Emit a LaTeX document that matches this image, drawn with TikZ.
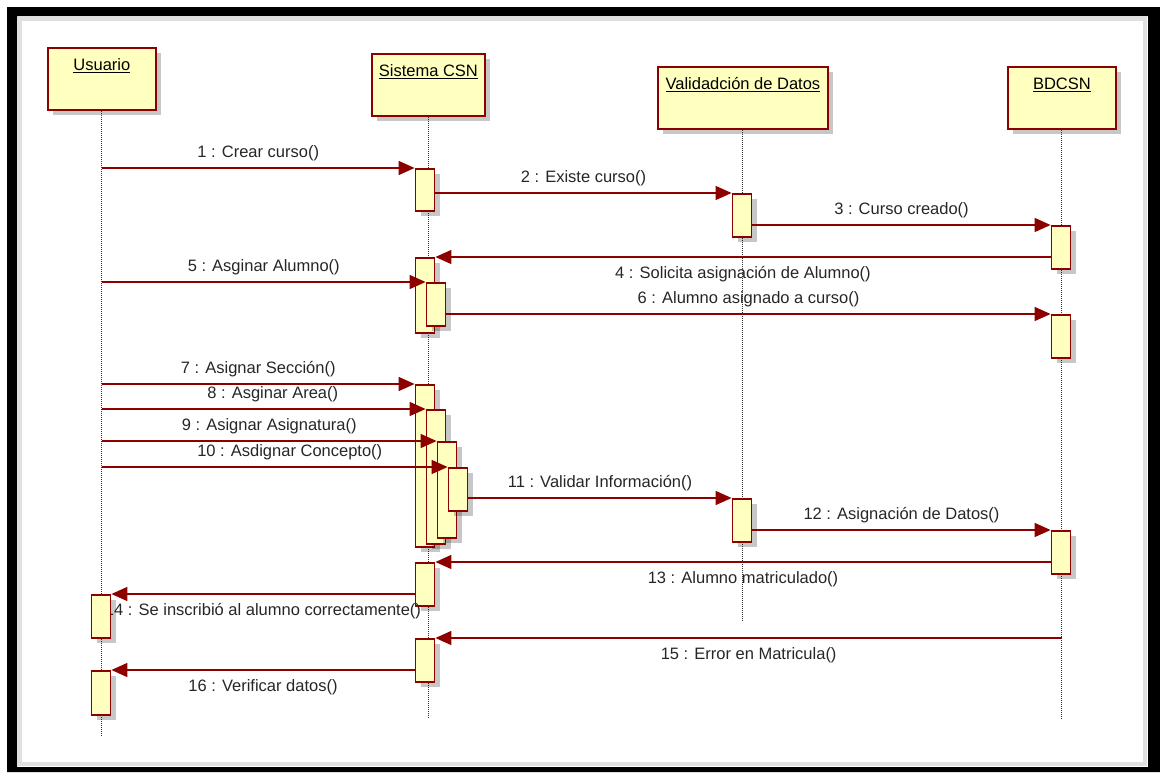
\documentclass[tikz,border=0pt]{standalone}
\usepackage{fontspec}
\setmainfont{Liberation Sans}
\usetikzlibrary{arrows.meta,shadows}

\definecolor{boxfill}{RGB}{255,255,192}
\definecolor{boxline}{RGB}{140,0,0}
\pgfdeclarelayer{front}
\pgfsetlayers{main,front}

\tikzset{
  umlfont/.style={font=\fontsize{16.5}{18}\selectfont},
  shade box/.style={drop shadow={shadow xshift=5pt, shadow yshift=-5pt, fill=black, opacity=.22}},
  head/.style={umlfont, draw=boxline, fill=boxfill, line width=1.8pt, shade box,
    minimum width=108pt, minimum height=62pt, inner sep=7pt,
    text height=16pt, text depth=32pt, anchor=north west},
  act/.style={draw=boxline, fill=boxfill, line width=1.8pt, shade box,
    minimum width=19pt, inner sep=0pt, anchor=north},
  life/.style={black!80, line width=0.9pt, dash pattern=on 1pt off 1pt},
  msg/.style={boxline, line width=1.4pt, -{Triangle[length=16pt,width=14pt]}},
  msglabel/.style={umlfont, text=black!85, inner sep=0pt, text height=12pt, text depth=3.5pt}
}

\begin{document}
\begin{tikzpicture}[x=1pt, y=-1pt]
  \useasboundingbox (0,0) rectangle (1160,772);

  % Frame
  \fill[black, even odd rule] (7,7) rectangle (1160,772) (17,16) rectangle (1148,767);
  \draw[black!12, line width=4pt] (20,19) rectangle (1145,764);

  % Lifeline heads
  \node[head] (usuario) at (47,47) {\underline{Usuario}};
  \node[head] (sistema) at (371,53) {\underline{Sistema CSN}};
  \node[head, minimum width=170pt] (valida) at (657,66) {\underline{Validadción de Datos}};
  \node[head] (bdcsn) at (1007,66) {\underline{BDCSN}};

  % Lifelines
  \draw[life] (usuario.south) -- (usuario.south |- 0,735);
  \draw[life] (sistema.south) -- (sistema.south |- 0,718);
  \draw[life] (valida.south) -- (valida.south |- 0,620);
  \draw[life] (bdcsn.south) -- (bdcsn.south |- 0,718);

  % Activations
  \node[act, minimum height=42pt] (s1) at (425,168) {};
  \node[act, minimum height=43pt] (v1) at (742,193) {};
  \node[act, minimum height=43pt] (b1) at (1061,225) {};
  \node[act, minimum height=75pt] (s2) at (425,257) {};
  \node[act, minimum height=43pt] (s3) at (436,282) {};
  \node[act, minimum height=43pt] (b2) at (1061,314) {};
  \node[act, minimum height=162pt] (s4) at (425,384) {};
  \node[act, minimum height=134pt] (s5) at (436,409) {};
  \node[act, minimum height=96pt] (s6) at (447,441) {};
  \node[act, minimum height=43pt] (s7) at (458,467) {};
  \node[act, minimum height=43pt] (v2) at (742,498) {};
  \node[act, minimum height=43pt] (b3) at (1061,530) {};
  \node[act, minimum height=43pt] (s8) at (425,562) {};
  \node[act, minimum height=43pt] (s9) at (425,638) {};
  \begin{pgfonlayer}{front}
    \node[act, minimum height=43pt] (u1) at (101,594) {};
    \node[act, minimum height=44pt] (u2) at (101,670) {};
  \end{pgfonlayer}

  % Messages
  \draw[msg] (s1.north west -| usuario.south) -- (s1.north west)
    node[msglabel, midway, above=6pt] {1 : Crear curso()};
  \draw[msg] (v1.north west -| s1.east) -- (v1.north west)
    node[msglabel, midway, above=6pt] {2 : Existe curso()};
  \draw[msg] (b1.north west -| v1.east) -- (b1.north west)
    node[msglabel, midway, above=6pt] {3 : Curso creado()};
  \draw[msg] (s2.north east -| b1.west) -- (s2.north east)
    node[msglabel, midway, below=9pt] {4 : Solicita asignación de Alumno()};
  \draw[msg] (s3.north west -| usuario.south) -- (s3.north west)
    node[msglabel, midway, above=6pt] {5 : Asginar Alumno()};
  \draw[msg] (b2.north west -| s3.east) -- (b2.north west)
    node[msglabel, midway, above=6pt] {6 : Alumno asignado a curso()};
  \draw[msg] (s4.north west -| usuario.south) -- (s4.north west)
    node[msglabel, midway, above=6pt] {7 : Asignar Sección()};
  \draw[msg] (s5.north west -| usuario.south) -- (s5.north west)
    node[msglabel, midway, above=6pt, xshift=9pt] {8 : Asginar Area()};
  \draw[msg] (s6.north west -| usuario.south) -- (s6.north west)
    node[msglabel, midway, above=6pt] {9 : Asignar Asignatura()};
  \draw[msg] (s7.north west -| usuario.south) -- (s7.north west)
    node[msglabel, midway, above=6pt, xshift=15pt] {10 : Asdignar Concepto()};
  \draw[msg] (v2.north west -| s7.east) -- (v2.north west)
    node[msglabel, midway, above=6pt] {11 : Validar Información()};
  \draw[msg] (b3.north west -| v2.east) -- (b3.north west)
    node[msglabel, midway, above=6pt] {12 : Asignación de Datos()};
  \draw[msg] (s8.north east -| b3.west) -- (s8.north east)
    node[msglabel, midway, below=9pt] {13 : Alumno matriculado()};
  \draw[msg] (u1.north east -| s8.west) -- (u1.north east)
    node[msglabel, midway, below=9pt] {14 : Se inscribió al alumno correctamente()};
  \draw[msg] (s9.north east -| bdcsn.south) -- (s9.north east)
    node[msglabel, midway, below=9pt] {15 : Error en Matricula()};
  \draw[msg] (u2.north east -| s9.west) -- (u2.north east)
    node[msglabel, midway, below=9pt] {16 : Verificar datos()};
\end{tikzpicture}
\end{document}
